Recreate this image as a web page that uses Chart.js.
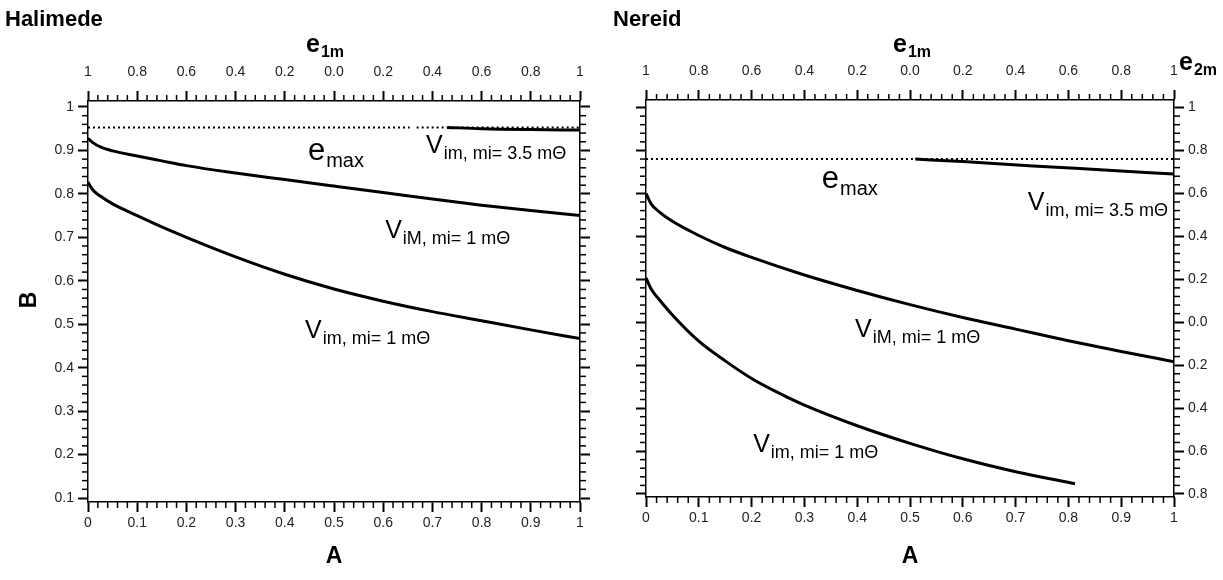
<!DOCTYPE html>
<html lang="en">
<head>
<meta charset="UTF-8">
<title>Halimede / Nereid</title>
<script src="https://cdn.jsdelivr.net/npm/chart.js"></script>
<style>
  body { margin: 0; background: #fff; }
  .panel { position: absolute; top: 0; }
  #leftPanel { left: 0; }
  #rightPanel { left: 610px; }
</style>
</head>
<body>
<div class="panel" id="leftPanel"><canvas id="halimede" width="610" height="580"></canvas></div>
<div class="panel" id="rightPanel"><canvas id="nereid" width="613" height="580"></canvas></div>
<script>
// Halimede
const halA      = [0, 0.01, 0.025, 0.05, 0.1, 0.15, 0.2, 0.3, 0.4, 0.5, 0.6, 0.7, 0.8, 0.9, 1.0];
const halViM1   = [0.928, 0.918, 0.908, 0.899, 0.887, 0.876, 0.865, 0.848, 0.833, 0.818, 0.803, 0.788, 0.774, 0.762, 0.750];
const halVim1   = [0.827, 0.809, 0.795, 0.777, 0.750, 0.724, 0.700, 0.655, 0.615, 0.581, 0.553, 0.529, 0.508, 0.487, 0.467];
const halV35A   = [0.73, 0.8, 0.9, 1.0];
const halVim35  = [0.953, 0.950, 0.948, 0.947];
const halEmaxA  = [0, 0.654, 0.661, 0.668, 1.0];
const halEmax   = [0.953, 0.953, null, 0.953, 0.953];

// Nereid
const nerA      = [0, 0.01, 0.025, 0.05, 0.1, 0.15, 0.2, 0.3, 0.4, 0.5, 0.6, 0.7, 0.8, 0.9, 1.0];
const nerViM1   = [0.800, 0.775, 0.757, 0.735, 0.702, 0.674, 0.651, 0.610, 0.574, 0.541, 0.511, 0.484, 0.457, 0.432, 0.408];
const nerVimA   = [0, 0.01, 0.025, 0.05, 0.1, 0.15, 0.2, 0.25, 0.3, 0.4, 0.5, 0.6, 0.7, 0.8125];
const nerVim1   = [0.603, 0.577, 0.553, 0.517, 0.456, 0.410, 0.369, 0.336, 0.307, 0.259, 0.218, 0.182, 0.152, 0.124];
const nerV35A   = [0.51, 0.6, 0.733, 0.86, 1.0];
const nerVim35  = [0.880, 0.874, 0.864, 0.855, 0.845];
const nerEmaxA  = [0, 1.0];
const nerEmax   = [0.880, 0.880];

const FONT = "'Liberation Sans', Arial, sans-serif";

function pts(xs, ys) {
    return xs.map((x, i) => ({ x: x, y: ys[i] }));
}

function solid(data) {
    return { data: data, borderColor: '#000', borderWidth: 3, pointRadius: 0, cubicInterpolationMode: 'monotone', fill: false };
}

function dotted(data) {
    return { data: data, borderColor: '#000', borderWidth: 2, borderDash: [2, 3], pointRadius: 0, fill: false, spanGaps: false };
}

// 1 / 0.8 / ... / 0.0 / ... / 1  (folded axes e1m, e2m)
function foldLabel(v) {
    const e = Math.abs(2 * v - 1);
    return Math.abs(e - 1) < 1e-6 ? '1' : e.toFixed(1);
}

function plainLabel(v) {
    if (Math.abs(v) < 1e-6) return '0';
    if (Math.abs(v - 1) < 1e-6) return '1';
    return v.toFixed(1);
}

// minor ticks every 0.02 between the labelled ones
const minorTicks = {
    id: 'minorTicks',
    afterDraw(chart) {
        const ctx = chart.ctx;
        ctx.save();
        ctx.strokeStyle = '#000';
        ctx.lineWidth = 1.5;
        Object.values(chart.scales).forEach(s => {
            const len = 6;
            for (let k = Math.ceil(s.min / 0.02 - 1e-6); k * 0.02 <= s.max + 1e-6; k++) {
                if (k % 5 === 0) continue;
                const p = s.getPixelForValue(k * 0.02);
                ctx.beginPath();
                if (s.position === 'left') { ctx.moveTo(s.right, p); ctx.lineTo(s.right - len, p); }
                else if (s.position === 'right') { ctx.moveTo(s.left, p); ctx.lineTo(s.left + len, p); }
                else if (s.position === 'bottom') { ctx.moveTo(p, s.top); ctx.lineTo(p, s.top + len); }
                else { ctx.moveTo(p, s.bottom); ctx.lineTo(p, s.bottom - len); }
                ctx.stroke();
            }
        });
        ctx.restore();
    }
};

function subText(ctx, x, y, main, sub, mainSize, subSize, weight, drop) {
    ctx.font = weight + ' ' + mainSize + 'px ' + FONT;
    ctx.fillText(main, x, y);
    const w = ctx.measureText(main).width;
    ctx.font = weight + ' ' + subSize + 'px ' + FONT;
    ctx.fillText(sub, x + w + 1, y + drop);
}

// titles and curve labels
const texts = {
    id: 'texts',
    afterDraw(chart, args, o) {
        const ctx = chart.ctx;
        const sx = chart.scales.x, sy = chart.scales.y;
        ctx.save();
        ctx.fillStyle = '#000';
        ctx.textBaseline = 'alphabetic';
        ctx.textAlign = 'left';
        ctx.font = 'bold 22px ' + FONT;
        ctx.fillText(o.title, o.titleX, 26);
        subText(ctx, o.e1mX, 52, 'e', '1m', 25, 16, 'bold', 5);
        if (o.e2m) subText(ctx, o.e2mX, 70, 'e', '2m', 25, 16, 'bold', 5);
        ctx.font = 'bold 23px ' + FONT;
        ctx.textAlign = 'center';
        ctx.fillText('A', o.aX, 563);
        if (o.bAxis) {
            ctx.save();
            ctx.translate(36, 300);
            ctx.rotate(-Math.PI / 2);
            ctx.fillText('B', 0, 0);
            ctx.restore();
        }
        ctx.textAlign = 'left';
        o.labels.forEach(l => {
            const px = sx.getPixelForValue(l.a), py = sy.getPixelForValue(l.b);
            if (l.main === 'e') subText(ctx, px, py, 'e', l.sub, 31, 20, 'normal', 7);
            else subText(ctx, px, py, 'V', l.sub, 25, 18, 'normal', 6);
        });
        ctx.restore();
    }
};

function makeChart(id, datasets, cfg) {
    const tickFont = { family: FONT, size: 14 };
    const axisGrid = { drawOnChartArea: false, tickLength: 10, color: '#000', tickWidth: 2 };
    const axisBorder = { color: '#000', width: 1.5 };
    return new Chart(document.getElementById(id), {
        type: 'line',
        data: { datasets: datasets },
        options: {
            responsive: false,
            animation: false,
            layout: { padding: 0 },
            plugins: { legend: { display: false }, tooltip: { enabled: false }, texts: cfg.text },
            scales: {
                x: {
                    type: 'linear', position: 'bottom', min: 0, max: 1,
                    ticks: { stepSize: 0.1, callback: plainLabel, font: tickFont, color: '#222', padding: 3, maxRotation: 0, autoSkip: false },
                    grid: axisGrid, border: axisBorder,
                    afterFit: s => { s.height = cfg.bottomH; }
                },
                x2: {
                    type: 'linear', position: 'top', min: 0, max: 1,
                    ticks: { stepSize: 0.1, callback: foldLabel, font: tickFont, color: '#222', padding: 10, maxRotation: 0, autoSkip: false },
                    grid: axisGrid, border: axisBorder,
                    afterFit: s => { s.height = cfg.topH; }
                },
                y: {
                    type: 'linear', position: 'left', min: cfg.yMin, max: cfg.yMax,
                    ticks: { stepSize: 0.1, includeBounds: false, callback: cfg.leftLabels ? plainLabel : () => '', font: tickFont, color: '#222', padding: 4 },
                    grid: axisGrid, border: axisBorder,
                    afterFit: s => { s.width = cfg.leftW; }
                },
                y2: {
                    type: 'linear', position: 'right', min: cfg.yMin, max: cfg.yMax,
                    ticks: { stepSize: 0.1, includeBounds: false, callback: cfg.rightLabels ? foldLabel : () => '', font: tickFont, color: '#222', padding: 4 },
                    grid: axisGrid, border: axisBorder,
                    afterFit: s => { s.width = cfg.rightW; }
                }
            }
        },
        plugins: [minorTicks, texts]
    });
}

makeChart('halimede', [
    dotted(pts(halEmaxA, halEmax)),
    solid(pts(halA, halViM1)),
    solid(pts(halA, halVim1)),
    solid(pts(halV35A, halVim35))
], {
    yMin: 0.0908, yMax: 1.0138, leftW: 88, rightW: 30, topH: 101, bottomH: 78,
    leftLabels: true, rightLabels: false,
    text: {
        title: 'Halimede', titleX: 5, e1mX: 306, aX: 334, bAxis: true, e2m: false,
        labels: [
            { main: 'e', sub: 'max', a: 0.447, b: 0.878 },
            { main: 'V', sub: 'im, mi= 3.5 mΘ', a: 0.687, b: 0.894 },
            { main: 'V', sub: 'iM, mi= 1 mΘ', a: 0.604, b: 0.698 },
            { main: 'V', sub: 'im, mi= 1 mΘ', a: 0.441, b: 0.468 }
        ]
    }
});

makeChart('nereid', [
    dotted(pts(nerEmaxA, nerEmax)),
    solid(pts(nerA, nerViM1)),
    solid(pts(nerVimA, nerVim1)),
    solid(pts(nerV35A, nerVim35))
], {
    yMin: 0.093, yMax: 1.0175, leftW: 36, rightW: 49, topH: 100, bottomH: 83,
    leftLabels: false, rightLabels: true,
    text: {
        title: 'Nereid', titleX: 3, e1mX: 283, aX: 300, bAxis: false, e2m: true, e2mX: 569,
        labels: [
            { main: 'e', sub: 'max', a: 0.333, b: 0.813 },
            { main: 'V', sub: 'im, mi= 3.5 mΘ', a: 0.723, b: 0.762 },
            { main: 'V', sub: 'iM, mi= 1 mΘ', a: 0.396, b: 0.466 },
            { main: 'V', sub: 'im, mi= 1 mΘ', a: 0.203, b: 0.197 }
        ]
    }
});
</script>
</body>
</html>
